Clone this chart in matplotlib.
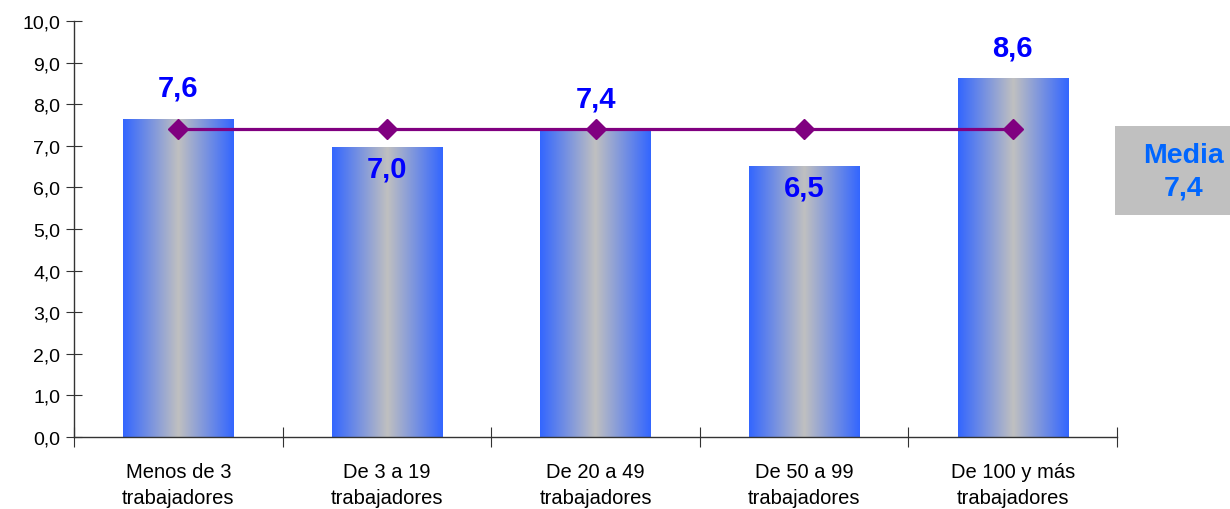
import numpy as np
import matplotlib.pyplot as plt
from matplotlib.colors import LinearSegmentedColormap
from matplotlib.patches import Rectangle

plt.rcParams['font.family'] = ['Liberation Sans', 'DejaVu Sans']

# Data
categories = ['Menos de 3\ntrabajadores', 'De 3 a 19\ntrabajadores', 'De 20 a 49\ntrabajadores',
              'De 50 a 99\ntrabajadores', 'De 100 y más\ntrabajadores']
values = [7.64, 6.96, 7.38, 6.49, 8.62]
media = 7.4
media_line = [7.4, 7.4, 7.4, 7.4, 7.4]
yticks = np.arange(0, 10.01, 1.0)

fig = plt.figure(figsize=(12.3, 5.1), dpi=100)
ax = fig.add_axes([0.0602, 0.141, 0.848, 0.816])

x = np.arange(len(categories))
bar_w = 0.53

# horizontal gradient: blue at edges, grey in the middle
cmap = LinearSegmentedColormap.from_list('bargrad', ['#3366FF', '#C0C0C0', '#3366FF'])
grad = np.linspace(0, 1, 256).reshape(1, -1)
for xi, v in zip(x, values):
    ax.imshow(grad, cmap=cmap, aspect='auto', interpolation='bicubic',
              extent=(xi - bar_w / 2, xi + bar_w / 2, 0, v), zorder=2)

ax.plot(x, media_line, color='#800080', linewidth=2.3, marker='D', markersize=10,
        zorder=4)

# value labels
for xi, v in zip(x, values):
    ypos = v + 0.75 if v >= media - 0.05 else v - 0.5
    ax.text(xi, ypos, f'{v:.1f}'.replace('.', ','), ha='center', va='center',
            color='#0000FF', fontsize=21, fontweight='bold', zorder=5)

ax.set_xlim(-0.5, len(categories) - 0.5)
ax.set_ylim(0, 10)
ax.set_yticks(yticks)
ax.set_yticklabels([f'{t:.1f}'.replace('.', ',') for t in yticks], fontsize=14)
ax.set_xticks(np.arange(-0.5, len(categories), 1.0))
ax.set_xticklabels([])
ax.set_xticks(x, minor=True)
ax.set_xticklabels(categories, minor=True, fontsize=14.5, linespacing=1.45)
ax.tick_params(axis='x', which='minor', length=0, pad=18)
ax.tick_params(axis='x', which='major', direction='inout', length=14, color='#333333')
ax.tick_params(axis='y', direction='inout', length=12, color='#333333', pad=4)

for s in ['top', 'right']:
    ax.spines[s].set_visible(False)
for s in ['left', 'bottom']:
    ax.spines[s].set_color('#333333')
    ax.spines[s].set_linewidth(1.0)

# Media box
fig.patches.append(Rectangle((0.9065, 0.5765), 0.0935, 0.1745, transform=fig.transFigure,
                             facecolor='#C0C0C0', edgecolor='none', zorder=0))
fig.text(0.962, 0.662, f'Media\n{media:.1f}'.replace('.', ','), ha='center', va='center',
         color='#0066FF', fontsize=20.5, fontweight='bold', linespacing=1.35)

fig.savefig('out.png', dpi=100)
